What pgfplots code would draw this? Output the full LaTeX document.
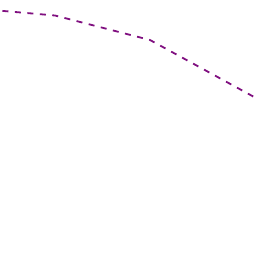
\documentclass[border=0pt]{standalone}
\usepackage{pgfplots}
\pgfplotsset{compat=1.18}
\definecolor{lc}{RGB}{128,16,128}
\begin{document}
\begin{tikzpicture}
\begin{axis}[
  scale only axis, width=256bp, height=256bp,
  hide axis, xmin=0, xmax=256, ymin=0, ymax=256,
  y dir=reverse, clip=true,
]
\path[use as bounding box] (axis cs:0,0) rectangle (axis cs:256,256);
\addplot[lc, line width=1.8bp, dash pattern=on 6bp off 6.5bp] coordinates {
(-10,9.8) (55,15.5) (150,40) (266,103.5)
};
\end{axis}
\end{tikzpicture}
\end{document}
